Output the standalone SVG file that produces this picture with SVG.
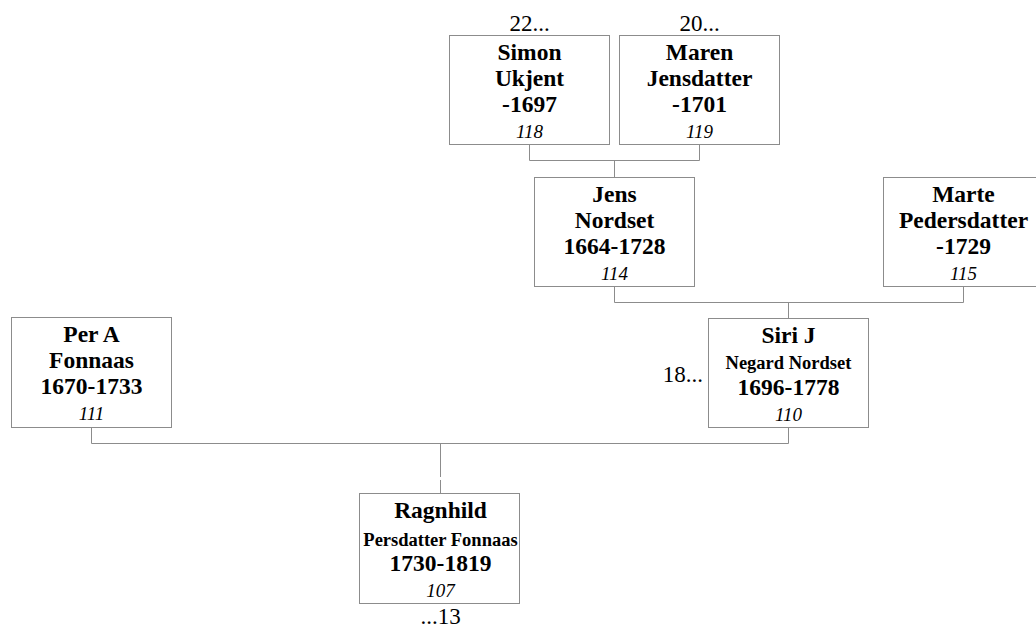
<svg xmlns="http://www.w3.org/2000/svg" width="1036" height="627" viewBox="0 0 1036 627">
<style>
  .box { fill: #ffffff; stroke: #8c8c8c; stroke-width: 1; }
  .con { fill: none; stroke: #8c8c8c; stroke-width: 1; }
  text { font-family: "Liberation Serif", "Times New Roman", serif; text-anchor: middle; fill: #000000; }
  .nm { font-weight: bold; font-size: 23.5px; }
  .sm { font-weight: bold; font-size: 18.5px; }
  .id { font-style: italic; font-size: 19px; }
  .lb { font-size: 23px; }
</style>
<rect x="0" y="0" width="1036" height="627" fill="#ffffff"/>
<g id="connectors">
  <path class="con" d="M529.5,144 V160.5 H699.5 V144 M614.5,160.5 V177"/>
  <path class="con" d="M614.5,286 V302.5 H963.5 V286 M788.5,302.5 V318"/>
  <path class="con" d="M91.5,427 V443.5 H788.5 V427 M440.5,443.5 V477 M440.5,480 V493"/>
</g>
<g id="node-simon">
  <rect class="box" x="449.5" y="35.5" width="160" height="109"/>
  <text class="lb" x="529.5" y="31">22...</text>
  <text class="nm" x="529.5" y="60">Simon</text>
  <text class="nm" x="529.5" y="86">Ukjent</text>
  <text class="nm" x="529.5" y="112">-1697</text>
  <text class="id" x="529.5" y="138">118</text>
</g>
<g id="node-maren">
  <rect class="box" x="619.5" y="35.5" width="160" height="109"/>
  <text class="lb" x="699.5" y="31">20...</text>
  <text class="nm" x="699.5" y="60">Maren</text>
  <text class="nm" x="699.5" y="86">Jensdatter</text>
  <text class="nm" x="699.5" y="112">-1701</text>
  <text class="id" x="699.5" y="138">119</text>
</g>
<g id="node-jens">
  <rect class="box" x="534.5" y="177.5" width="160" height="109"/>
  <text class="nm" x="614.5" y="202">Jens</text>
  <text class="nm" x="614.5" y="228">Nordset</text>
  <text class="nm" x="614.5" y="254">1664-1728</text>
  <text class="id" x="614.5" y="280">114</text>
</g>
<g id="node-marte">
  <rect class="box" x="883.5" y="177.5" width="160" height="109"/>
  <text class="nm" x="963.5" y="202">Marte</text>
  <text class="nm" x="963.5" y="228">Pedersdatter</text>
  <text class="nm" x="963.5" y="254">-1729</text>
  <text class="id" x="963.5" y="280">115</text>
</g>
<g id="node-per">
  <rect class="box" x="11.5" y="317.5" width="160" height="110"/>
  <text class="nm" x="91.5" y="342">Per A</text>
  <text class="nm" x="91.5" y="368">Fonnaas</text>
  <text class="nm" x="91.5" y="394">1670-1733</text>
  <text class="id" x="91.5" y="420">111</text>
</g>
<g id="node-siri">
  <rect class="box" x="708.5" y="318.5" width="160" height="109"/>
  <text class="lb" x="703" y="382" style="text-anchor:end">18...</text>
  <text class="nm" x="788.5" y="343">Siri J</text>
  <text class="sm" x="788.5" y="369">Negard Nordset</text>
  <text class="nm" x="788.5" y="395">1696-1778</text>
  <text class="id" x="788.5" y="421">110</text>
</g>
<g id="node-ragnhild">
  <rect class="box" x="359.5" y="493.5" width="160" height="110"/>
  <text class="nm" x="440.5" y="518">Ragnhild</text>
  <text class="sm" x="440.5" y="546">Persdatter Fonnaas</text>
  <text class="nm" x="440.5" y="571">1730-1819</text>
  <text class="id" x="440.5" y="597">107</text>
  <text class="lb" x="440.5" y="624">...13</text>
</g>
</svg>
